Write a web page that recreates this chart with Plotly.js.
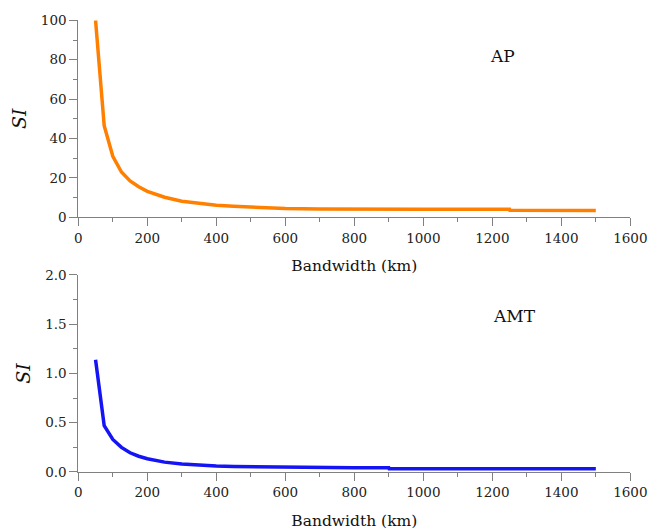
<!DOCTYPE html>
<html><head><meta charset="utf-8">
<script src="https://cdn.plot.ly/plotly-3.0.1.min.js"></script>
<style>html,body{margin:0;padding:0;background:#fff}#c{width:657px;height:532px}</style>
</head><body><div id="c"></div>
<script>
const bandwidthAP = [50, 75, 100, 125, 150, 175, 200, 250, 300, 350, 400, 450, 500, 600, 700, 800, 900, 1000, 1250, 1251, 1500];
const siAP = [100, 46.5, 31, 23, 18.5, 15.5, 13.2, 10.2, 8.2, 7, 6.1, 5.6, 5.1, 4.5, 4.2, 4.05, 4.05, 4.05, 4.05, 3.55, 3.5];
const bandwidthAMT = [50, 75, 100, 125, 150, 175, 200, 250, 300, 350, 400, 450, 500, 600, 700, 800, 900, 901, 1000, 1250, 1500];
const siAMT = [1.14, 0.47, 0.33, 0.25, 0.195, 0.16, 0.135, 0.1, 0.08, 0.068, 0.06, 0.055, 0.052, 0.047, 0.044, 0.042, 0.042, 0.034, 0.034, 0.034, 0.034];
const xTicks = [0, 200, 400, 600, 800, 1000, 1200, 1400, 1600];

const F = "DejaVu Serif";
const axCommon = {
  showline: true, linecolor: '#808080', linewidth: 1,
  ticks: 'outside', ticklen: 8, tickcolor: '#808080', tickwidth: 1,
  showgrid: false, zeroline: false,
  tickfont: {family: F, size: 13.5, color: '#222'},
  automargin: false
};
const xa = Object.assign({}, axCommon, {
  range: [0, 1600], tickvals: xTicks, domain: [0.1192, 0.9594],
  minor: {dtick: 100, tick0: 0, ticks: 'outside', ticklen: 4, tickcolor: '#808080', showgrid: false},
  title: {text: 'Bandwidth (km)', font: {family: F, size: 15.5, color: '#111'}, standoff: 15}
});
const data = [
  {x: bandwidthAP, y: siAP, xaxis: 'x', yaxis: 'y', mode: 'lines', line: {color: '#ff8000', width: 3.5}, showlegend: false},
  {x: bandwidthAMT, y: siAMT, xaxis: 'x2', yaxis: 'y2', mode: 'lines', line: {color: '#1414f5', width: 3.5}, showlegend: false}
];
const layout = {
  width: 657, height: 532, margin: {l: 0, r: 0, t: 0, b: 0},
  paper_bgcolor: '#fff', plot_bgcolor: '#fff',
  font: {family: F},
  xaxis: Object.assign({}, xa, {anchor: 'y'}),
  xaxis2: Object.assign({}, xa, {anchor: 'y2'}),
  yaxis: Object.assign({}, axCommon, {
    range: [0, 100], dtick: 20, domain: [0.5915, 0.9618], anchor: 'x',
    minor: {dtick: 10, ticks: 'outside', ticklen: 4, tickcolor: '#808080', showgrid: false},
    title: {text: '<i>SI</i>', font: {family: F, size: 19, color: '#111'}, standoff: 9}
  }),
  yaxis2: Object.assign({}, axCommon, {
    range: [0, 2], dtick: 0.5, tickformat: '.1f', domain: [0.1128, 0.4831], anchor: 'x2',
    minor: {dtick: 0.25, ticks: 'outside', ticklen: 4, tickcolor: '#808080', showgrid: false},
    title: {text: '<i>SI</i>', font: {family: F, size: 19, color: '#111'}, standoff: 9}
  }),
  annotations: [
    {text: 'AP', xref: 'x', yref: 'y', x: 1230, y: 82, showarrow: false, font: {family: F, size: 17, color: '#111'}},
    {text: 'AMT', xref: 'x2', yref: 'y2', x: 1265, y: 1.58, showarrow: false, font: {family: F, size: 17, color: '#111'}}
  ]
};
Plotly.newPlot('c', data, layout, {displayModeBar: false, staticPlot: true});
</script></body></html>
